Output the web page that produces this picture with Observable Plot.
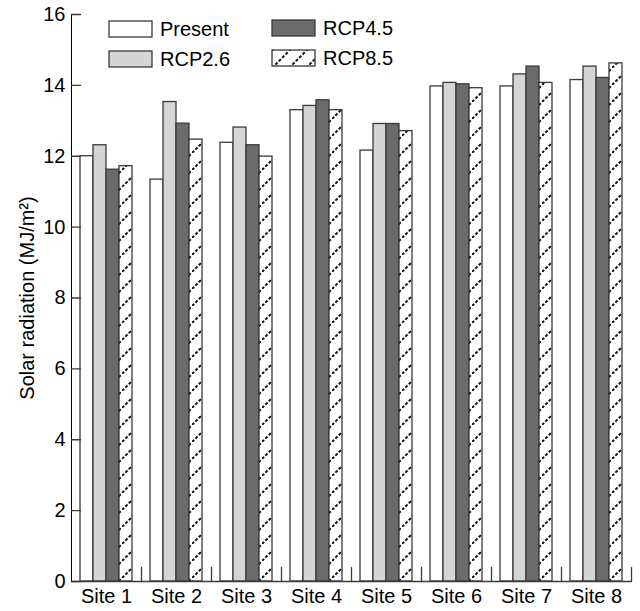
<!DOCTYPE html>
<html>
<head>
<meta charset="utf-8">
<script src="https://cdn.jsdelivr.net/npm/d3@7"></script>
<script src="https://cdn.jsdelivr.net/npm/@observablehq/plot@0.6"></script>
<style>
  body { margin: 0; background: white; }
  #chart { position: relative; width: 640px; height: 611px; }
</style>
</head>
<body>
<div id="chart"></div>
<script>
const sites = ["Site 1", "Site 2", "Site 3", "Site 4", "Site 5", "Site 6", "Site 7", "Site 8"];
const series = ["Present", "RCP2.6", "RCP4.5", "RCP8.5"];
const present = [12.00, 11.34, 12.38, 13.30, 12.16, 13.97, 13.97, 14.15];
const rcp26   = [12.31, 13.53, 12.81, 13.42, 12.91, 14.07, 14.31, 14.53];
const rcp45   = [11.62, 12.92, 12.31, 13.58, 12.91, 14.03, 14.53, 14.21];
const rcp85   = [11.72, 12.47, 11.99, 13.30, 12.71, 13.92, 14.07, 14.62];
const yTicks = [0, 2, 4, 6, 8, 10, 12, 14, 16];
const yLabel = "Solar radiation (MJ/m²)";

const valuesBySeries = [present, rcp26, rcp45, rcp85];
const data = [];
sites.forEach((site, i) => {
  series.forEach((s, j) => data.push({site, series: s, value: valuesBySeries[j][i]}));
});

const fills = ["white", "#d5d5d5", "#6b6b6b", "url(#hatch)"];
const edge = "#3a3a3a";
const font = "'Liberation Sans', Arial, sans-serif";
const tickShape = {draw(context, l) { context.moveTo(0, 0); context.lineTo(0, -l); }};

const chart = Plot.plot({
  width: 640,
  height: 611,
  marginLeft: 68,
  marginRight: 6,
  marginTop: 14,
  marginBottom: 30,
  style: {fontSize: "20px", fontFamily: font, color: "black", background: "white"},
  fx: {domain: sites, padding: 0, label: null, tickSize: 0, tickPadding: 7},
  x: {domain: series, paddingInner: 0, paddingOuter: 0.67, axis: null},
  y: {domain: [0, 16], ticks: yTicks, tickSize: 0, tickPadding: 6, line: true,
      label: yLabel, labelAnchor: "center", labelOffset: 52, labelArrow: false},
  color: {domain: series, range: fills},
  marks: [
    Plot.barY(data, {fx: "site", x: "series", y: "value", fill: "series",
      stroke: edge, strokeWidth: 1.3, inset: 0}),
    Plot.ruleY([0], {stroke: edge, strokeWidth: 1.3}),
    Plot.vector(yTicks, {y: d => d, fx: () => sites[0], frameAnchor: "left",
      length: 9, rotate: 90, anchor: "start", shape: tickShape, stroke: edge, strokeWidth: 1.3}),
    Plot.vector([0], {frameAnchor: "bottom-right", length: 14, rotate: 0, anchor: "start",
      shape: tickShape, stroke: edge, strokeWidth: 1.3})
  ]
});

const svg = d3.select(chart);
const defs = svg.insert("defs", ":first-child");
const pat = defs.append("pattern")
  .attr("id", "hatch").attr("patternUnits", "userSpaceOnUse")
  .attr("width", 17).attr("height", 17);
pat.append("rect").attr("width", 17).attr("height", 17).attr("fill", "white");
pat.append("line").attr("x1", 0).attr("y1", 17).attr("x2", 17).attr("y2", 0)
  .attr("stroke", "#111").attr("stroke-width", 2).attr("stroke-dasharray", "3,1.8");

// legend
const legendItems = [
  {label: series[0], fill: fills[0], x: 109, y: 21},
  {label: series[1], fill: fills[1], x: 109, y: 51},
  {label: series[2], fill: fills[2], x: 272, y: 20},
  {label: series[3], fill: fills[3], x: 272, y: 50}
];
const lg = svg.append("g").attr("font-family", font).attr("font-size", 20)
  .attr("text-anchor", "start");
legendItems.forEach(d => {
  lg.append("rect").attr("x", d.x).attr("y", d.y).attr("width", 43).attr("height", 16)
    .attr("fill", d.fill).attr("stroke", edge).attr("stroke-width", 1.3);
  lg.append("text").attr("x", d.x + 51).attr("y", d.y + 8).attr("dy", "0.36em")
    .attr("fill", "black").text(d.label);
});

document.getElementById("chart").appendChild(chart);
</script>
</body>
</html>
